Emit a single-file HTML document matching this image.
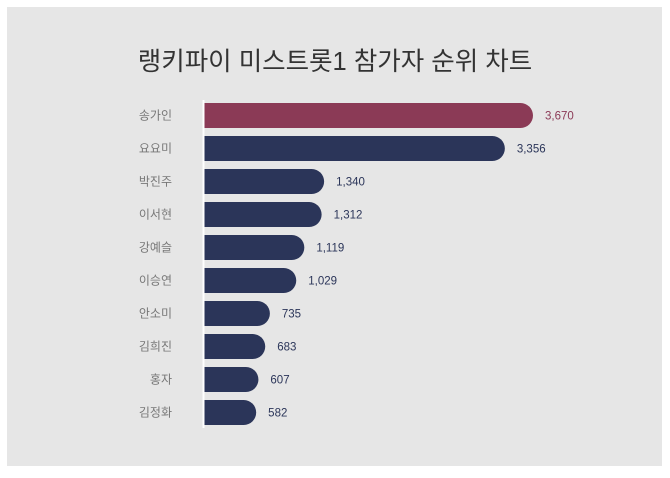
<!DOCTYPE html>
<html><head><meta charset="utf-8"><style>
body{margin:0;width:670px;height:473px;background:#fff;overflow:hidden;font-family:"Liberation Sans","Noto Sans CJK KR",sans-serif}
</style></head><body>
<svg width="670" height="473">
<rect x="7" y="7" width="655" height="459" fill="#e6e6e6"/>
<text x="335" y="70" text-anchor="middle" font-size="25.5" fill="#333" font-family="Liberation Sans, Noto Sans CJK KR, sans-serif">랭키파이 미스트롯1 참가자 순위 차트</text>
<g id="bars"></g>
<line x1="203.5" y1="100" x2="203.5" y2="428" stroke="#fff" stroke-width="2"/>
</svg>
<script>
const names=["송가인","요요미","박진주","이서현","강예슬","이승연","안소미","김희진","홍자","김정화"];
const values=[3670,3356,1340,1312,1119,1029,735,683,607,582];
const g=document.getElementById('bars');
const ns="http://www.w3.org/2000/svg";
const x0=204,scale=329/3670,top0=103,step=33,h=25;
const xs=v=>v*scale;
names.forEach((n,i)=>{
  const y=top0+i*step, w=xs(values[i]), r=h/2;
  const color=i===0?"#8b3a56":"#2b3559";
  const p=document.createElementNS(ns,'path');
  p.setAttribute('d',`M${x0},${y}H${x0+w-r}A${r},${r} 0 0 1 ${x0+w-r},${y+h}H${x0}Z`);
  p.setAttribute('fill',color);
  
  
  g.appendChild(p);
  const t=document.createElementNS(ns,'text');
  t.setAttribute('x',172);t.setAttribute('y',y+h/2+4);
  t.setAttribute('text-anchor','end');t.setAttribute('font-size','12');t.setAttribute('fill','#777');
  t.textContent=n;
  
  
  g.appendChild(t);
  const v=document.createElementNS(ns,'text');
  v.setAttribute('x',x0+w+12);v.setAttribute('y',y+h/2+4);
  v.setAttribute('font-size','11.5');v.setAttribute('fill',color);
  v.textContent=values[i].toLocaleString('en-US');
  
  
  g.appendChild(v);
});
</script>
</body></html>
